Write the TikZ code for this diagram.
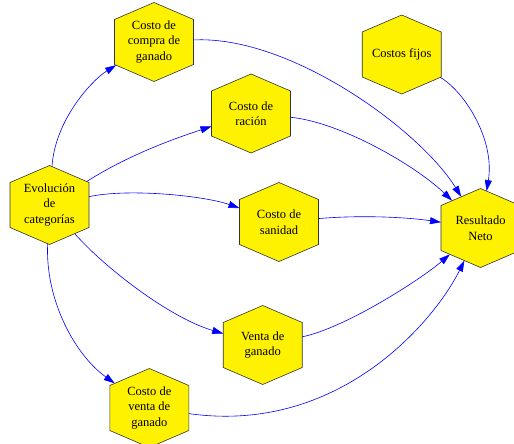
\documentclass[tikz,border=0pt]{standalone}
\usepackage{fontspec}
\setmainfont{Liberation Serif}
\usetikzlibrary{arrows.meta}

% A fixed-size hexagon with pointed top and bottom:
% half width \hexhw, half height \hexhh, half length of the vertical sides \hexhs.
\def\hexhw{39.5pt}
\def\hexhh{39.5pt}
\def\hexhs{22.5pt}
\makeatletter
\pgfdeclareshape{hexcell}{%
  \savedanchor\centerpoint{%
    \pgf@x=.5\wd\pgfnodeparttextbox
    \pgf@y=.5\ht\pgfnodeparttextbox
    \advance\pgf@y by -.5\dp\pgfnodeparttextbox
  }%
  \anchor{center}{\centerpoint}%
  \anchor{north}{\centerpoint\advance\pgf@y by \hexhh}%
  \anchor{south}{\centerpoint\advance\pgf@y by -\hexhh}%
  \anchor{east}{\centerpoint\advance\pgf@x by \hexhw}%
  \anchor{west}{\centerpoint\advance\pgf@x by -\hexhw}%
  \anchorborder{%
    \edef\hexdx{\the\pgf@x}%
    \edef\hexdy{\the\pgf@y}%
    \pgfmathsetmacro\hexlen{max(veclen(\hexdx,\hexdy),0.001)}%
    \pgfmathsetmacro\hexux{\hexdx/\hexlen}%
    \pgfmathsetmacro\hexuy{\hexdy/\hexlen}%
    \pgfmathsetmacro\hext{min(\hexhw/max(abs(\hexux),0.001),
      \hexhh/(abs(\hexuy)+(\hexhh-\hexhs)/\hexhw*abs(\hexux)))}%
    \pgfmathsetmacro\hexbx{\hext*\hexux}%
    \pgfmathsetmacro\hexby{\hext*\hexuy}%
    \centerpoint
    \advance\pgf@x by \hexbx pt%
    \advance\pgf@y by \hexby pt%
  }%
  \backgroundpath{%
    \centerpoint
    \edef\hexcx{\the\pgf@x}%
    \edef\hexcy{\the\pgf@y}%
    \pgfpathmoveto{\pgfpoint{\hexcx}{\hexcy+\hexhh}}%
    \pgfpathlineto{\pgfpoint{\hexcx+\hexhw}{\hexcy+\hexhs}}%
    \pgfpathlineto{\pgfpoint{\hexcx+\hexhw}{\hexcy-\hexhs}}%
    \pgfpathlineto{\pgfpoint{\hexcx}{\hexcy-\hexhh}}%
    \pgfpathlineto{\pgfpoint{\hexcx-\hexhw}{\hexcy-\hexhs}}%
    \pgfpathlineto{\pgfpoint{\hexcx-\hexhw}{\hexcy+\hexhs}}%
    \pgfpathclose
  }%
}
\makeatother

\begin{document}
\begin{tikzpicture}[x=1pt,y=-1pt,
  hexnode/.style={hexcell, inner sep=0pt,
    draw=black!80, line width=0.6pt, fill=yellow, align=center,
    font=\fontsize{12.5}{15.5}\selectfont},
  link/.style={draw=blue, line width=0.6pt, -{Triangle[length=11pt,width=7pt]}}]
\useasboundingbox (0,0) rectangle (514,444);

% cost and result nodes
\node[hexnode] (evo)     at (49.5,205)  {Evolución\\de\\categorías};
\node[hexnode] (compra)  at (154,42)    {Costo de\\compra de\\ganado};
\node[hexnode] (racion)  at (251,113.5) {Costo de\\ración};
\node[hexnode] (fijos)   at (401.7,54.5){Costos fijos};
\node[hexnode] (sanidad) at (279,222)   {Costo de\\sanidad};
\node[hexnode] (venta)   at (262.7,345) {Venta de\\ganado};
\node[hexnode] (cventa)  at (149.3,408) {Costo de\\venta de\\ganado};
\node[hexnode] (res)     at (480.5,228) {Resultado\\Neto};

% links out of the herd evolution
\draw[link] (evo) .. controls (55,120)  and (92,80)   .. (compra);
\draw[link] (evo) .. controls (127,156) and (170,140) .. (racion);
\draw[link] (evo) .. controls (130,188) and (205,196) .. (sanidad);
\draw[link] (evo) .. controls (105,268) and (170,318) .. (venta);
\draw[link] (evo) .. controls (45,300)  and (75,355)  .. (cventa);

% links into the net result
\draw[link] (compra)  .. controls (290,35)  and (420,130) .. (res);
\draw[link] (racion)  .. controls (340,122) and (415,165) .. (res);
\draw[link] (fijos)   .. controls (465,92)  and (495,140) .. (res);
\draw[link] (sanidad) .. controls (360,215) and (405,217) .. (res);
\draw[link] (venta)   .. controls (345,328) and (420,280) .. (res);
\draw[link] (cventa)  .. controls (340,435) and (435,320) .. (res);
\end{tikzpicture}
\end{document}
